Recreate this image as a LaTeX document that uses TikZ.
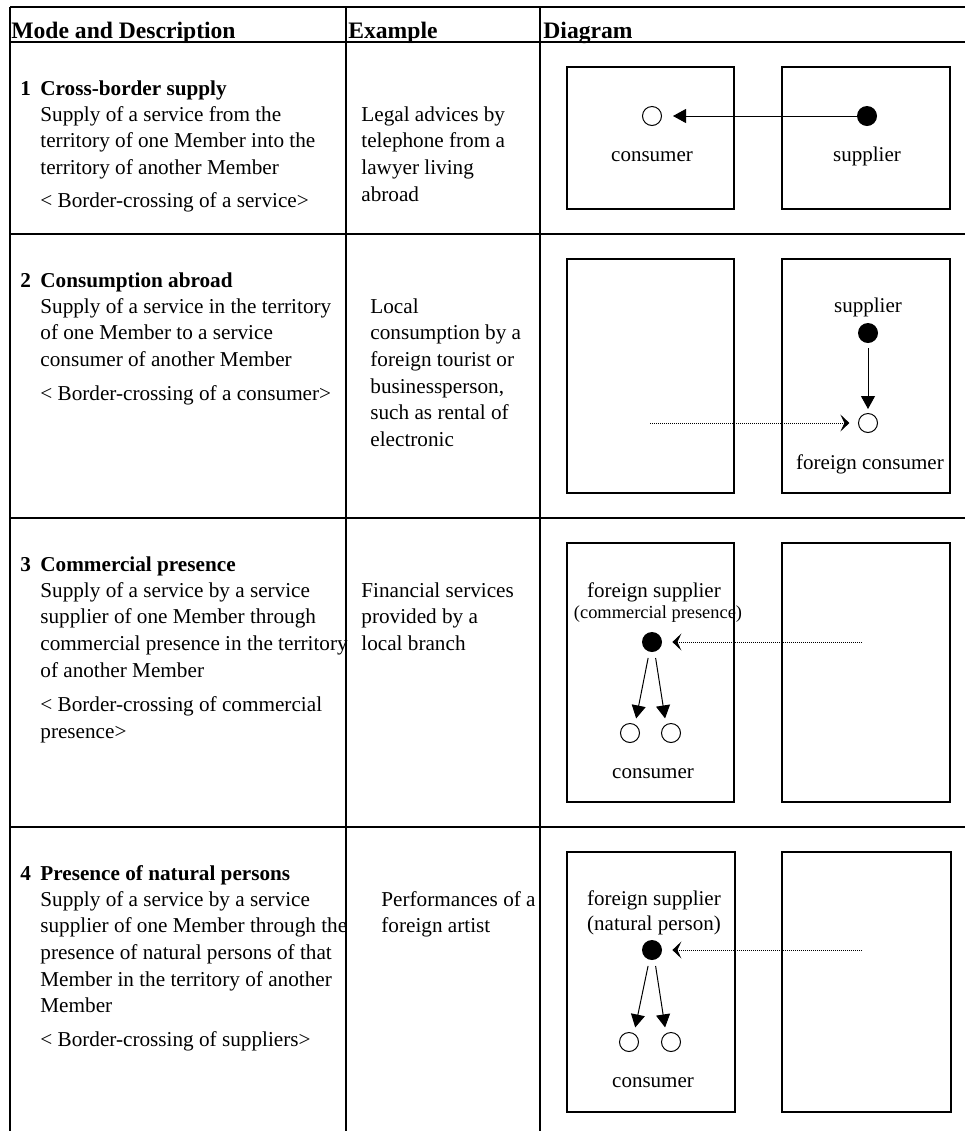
\documentclass[tikz,border=0pt]{standalone}
\usepackage{fontspec}
\setmainfont{Liberation Serif}
\usetikzlibrary{arrows.meta}

\begin{document}
\begin{tikzpicture}[x=0.5pt, y=-0.5pt, >={Triangle[length=6.5pt,width=7pt]},
    rule/.style={line width=1.2pt},
    terr/.style={line width=1.1pt},
    body/.style={anchor=base west, inner sep=0pt, font=\fontsize{10.6}{13}\selectfont},
    head/.style={body, font=\fontsize{10.6}{13}\selectfont\bfseries},
    hdr/.style={body, font=\fontsize{11.8}{13}\selectfont\bfseries},
    lbl/.style={anchor=base, inner sep=0pt, font=\fontsize{10.5}{13}\selectfont},
    supp/.style={circle, fill=black, inner sep=0pt, minimum size=10pt},
    cons/.style={circle, draw, line width=0.5pt, fill=white, inner sep=0pt, minimum size=9.5pt},
    flow/.style={->, line width=0.5pt},
    move/.style={-{Stealth[length=4.5pt,width=8.5pt,inset=2pt]}, line width=0.5pt, dash pattern=on 0.5pt off 0.5pt}]

    \useasboundingbox (0,0) rectangle (965,1131);

    % --- table rules ---
    \draw[rule] (10,7) -- (965,7);
    \foreach \y in {42,234,518,827}
        \draw[rule] (10,\y) -- (965,\y);
    \foreach \x in {10,346,540}
        \draw[rule] (\x,7) -- (\x,1131);

    % header
    \node[hdr] (hmode) at (11,38) {Mode and Description};
    \node[hdr] (hexam) at (348,38) {Example};
    \node[hdr] (hdiag) at (543,38) {Diagram};

    % --- 1. Cross-border supply ---
    \node[head] (n1) at (20,95) {1};
    \node[head] (h1) at (40,95) {Cross-border supply};
    \foreach \txt [count=\i from 0] in {Supply of a service from the, territory of one Member into the, territory of another Member}
        \node[body] (d1-\i) at (40,121+26.7*\i) {\txt};
    \node[body] (b1) at (40,207) {< Border-crossing of a service>};
    \foreach \txt [count=\i from 0] in {Legal advices by, telephone from a, lawyer living, abroad}
        \node[body] (e1-\i) at (361,121+26.7*\i) {\txt};

    \draw[terr] (567,67) rectangle (734,209);
    \draw[terr] (782,67) rectangle (950,209);
    \node[cons] (c1) at (652,116) {};
    \node[supp] (s1) at (867,116) {};
    \node[lbl] (lc1) at (652,161) {consumer};
    \node[lbl] (ls1) at (867,161) {supplier};
    \draw[flow, shorten >=5.5pt] (s1) -- (c1);

    % --- 2. Consumption abroad ---
    \node[head] (n2) at (20,287) {2};
    \node[head] (h2) at (40,287) {Consumption abroad};
    \foreach \txt [count=\i from 0] in {Supply of a service in the territory, of one Member to a service, consumer of another Member}
        \node[body] (d2-\i) at (40,313+26.7*\i) {\txt};
    \node[body] (b2) at (40,400) {< Border-crossing of a consumer>};
    \foreach \txt [count=\i from 0] in {Local, consumption by a, foreign tourist or, {businessperson,}, such as rental of, electronic}
        \node[body] (e2-\i) at (370,313+26.7*\i) {\txt};

    \draw[terr] (567,259) rectangle (734,493);
    \draw[terr] (782,259) rectangle (950,493);
    \node[lbl] (ls2) at (868,312) {supplier};
    \node[supp] (s2) at (868,333) {};
    \node[cons] (c2) at (868,423) {};
    \node[lbl] (lc2) at (870,469) {foreign consumer};
    \draw[flow, shorten <=2.5pt, shorten >=2pt] (s2) -- (c2);
    \coordinate (o2) at (650,423);
    \draw[move, shorten >=4.3pt] (o2) -- (c2);

    % --- 3. Commercial presence ---
    \node[head] (n3) at (20,571) {3};
    \node[head] (h3) at (40,571) {Commercial presence};
    \foreach \txt [count=\i from 0] in {Supply of a service by a service, supplier of one Member through, commercial presence in the territory, of another Member}
        \node[body] (d3-\i) at (40,597+26.7*\i) {\txt};
    \node[body] (b3-0) at (40,711) {< Border-crossing of commercial};
    \node[body] (b3-1) at (40,738) {presence>};
    \foreach \txt [count=\i from 0] in {Financial services, provided by a, local branch}
        \node[body] (e3-\i) at (361,597+26.7*\i) {\txt};

    \draw[terr] (567,543) rectangle (734,802);
    \draw[terr] (782,543) rectangle (950,802);
    \node[lbl] (lf3) at (654,597) {foreign supplier};
    \node[lbl, font=\fontsize{9.2}{11}\selectfont] (lp3) at (658,618) {(commercial presence)};
    \node[supp] (s3) at (652,642) {};
    \node[cons] (ca3) at (630,733) {};
    \node[cons] (cb3) at (671,733) {};
    \node[lbl] (lc3) at (653,778) {consumer};
    \draw[flow, shorten <=3pt, shorten >=3pt] (s3.255) -- (ca3.60);
    \draw[flow, shorten <=3pt, shorten >=3pt] (s3.285) -- (cb3.120);
    \coordinate (o3) at (862,642);
    \draw[move, shorten >=5pt] (o3) -- (s3);

    % --- 4. Presence of natural persons ---
    \node[head] (n4) at (20,880) {4};
    \node[head] (h4) at (40,880) {Presence of natural persons};
    \foreach \txt [count=\i from 0] in {Supply of a service by a service, supplier of one Member through the, presence of natural persons of that, Member in the territory of another, Member}
        \node[body] (d4-\i) at (40,906+26.7*\i) {\txt};
    \node[body] (b4) at (40,1046) {< Border-crossing of suppliers>};
    \foreach \txt [count=\i from 0] in {Performances of a, foreign artist}
        \node[body] (e4-\i) at (381,906+26.7*\i) {\txt};

    \draw[terr] (567,852) rectangle (735,1112);
    \draw[terr] (782,852) rectangle (951,1112);
    \node[lbl] (lf4) at (654,905) {foreign supplier};
    \node[lbl] (lp4) at (654,930) {(natural person)};
    \node[supp] (s4) at (652,950) {};
    \node[cons] (ca4) at (629,1042) {};
    \node[cons] (cb4) at (671,1042) {};
    \node[lbl] (lc4) at (653,1087) {consumer};
    \draw[flow, shorten <=3pt, shorten >=3pt] (s4.255) -- (ca4.60);
    \draw[flow, shorten <=3pt, shorten >=3pt] (s4.285) -- (cb4.120);
    \coordinate (o4) at (862,950);
    \draw[move, shorten >=5pt] (o4) -- (s4);

\end{tikzpicture}
\end{document}
